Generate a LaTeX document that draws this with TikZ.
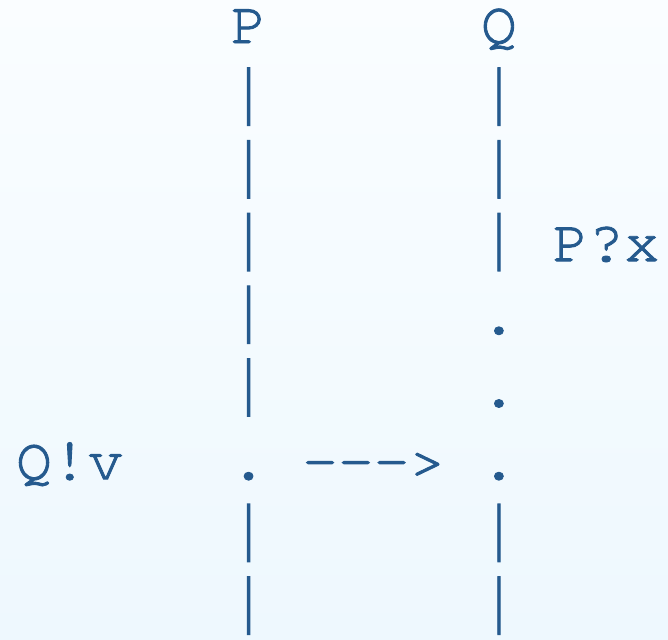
\documentclass[tikz,border=0pt]{standalone}
\usepackage{fontspec}
\newfontfamily\asciifont{TeX Gyre Cursor}[FakeBold=1.5]
\definecolor{ink}{HTML}{255A8E}
\definecolor{skytop}{HTML}{FAFDFF}
\definecolor{skybot}{HTML}{EEF8FE}
\newcommand{\lifebar}{\scalebox{1}[1.33]{|}}
\tikzset{
  glyph/.style={font=\asciifont\fontsize{59.6}{72}\selectfont, text=ink, inner sep=0pt, anchor=base},
}
\begin{document}
\begin{tikzpicture}[x=35.76pt, y=-72.7pt]
\shade[top color=skytop, bottom color=skybot] (-0.951,-0.5915) rectangle (17.729,8.198);
\useasboundingbox (-0.951,-0.5915) rectangle (17.729,8.198);
% process names
\node[glyph] (procP) at (6,0) {P};
\node[glyph] (procQ) at (13,0) {Q};
% life lines
\foreach \r in {1,...,5,7,8}
  \node[glyph] (pline\r) at (6,\r) {\lifebar};
\node[glyph] (pdot) at (6,6) {.};
\foreach \r in {1,2,3,7,8}
  \node[glyph] (qline\r) at (13,\r) {\lifebar};
\foreach \r in {4,5,6}
  \node[glyph] (qdot\r) at (13,\r) {.};
% send, message and receive
\node[glyph] (send) at (1,6) {Q!v};
\node[glyph] (msg) at (9.5,6) {-{}-{}-{}>};
\node[glyph] (recv) at (16,3) {P?x};
\end{tikzpicture}
\end{document}
